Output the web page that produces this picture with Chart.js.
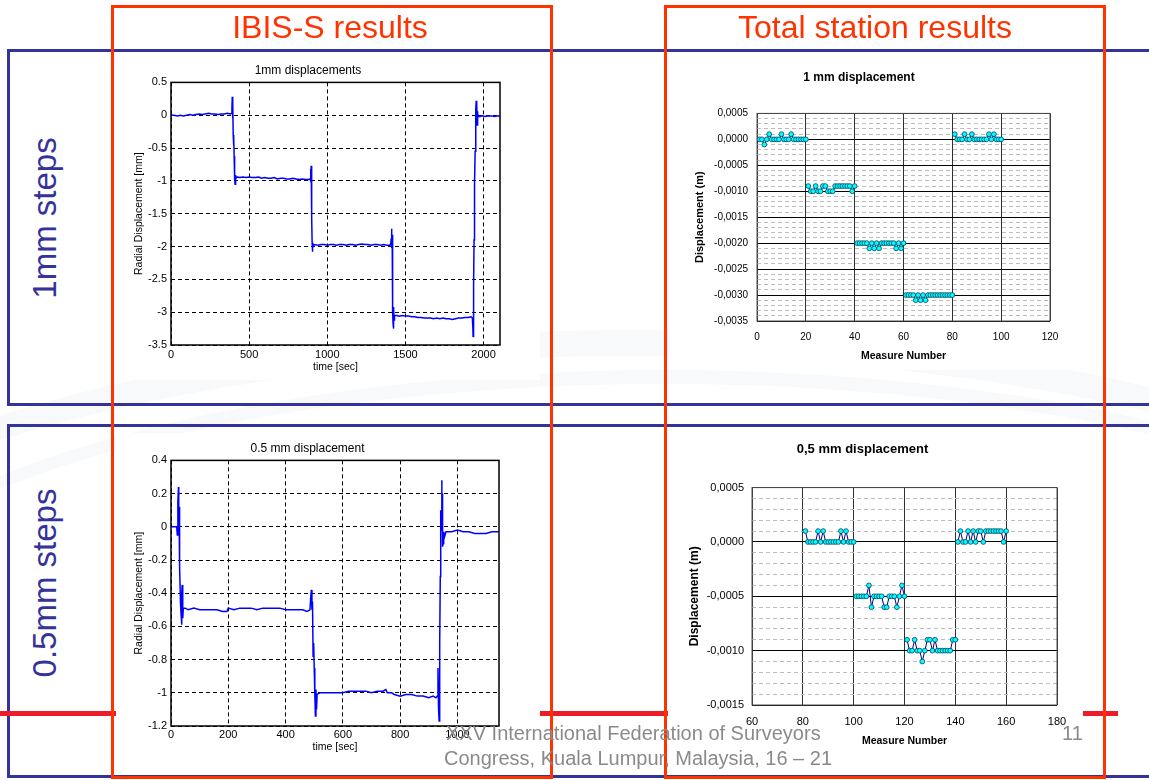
<!DOCTYPE html>
<html lang="en">
<head>
<meta charset="UTF-8">
<title>IBIS-S and total station results</title>
<script src="https://cdn.jsdelivr.net/npm/chart.js"></script>
<style>
  body { margin: 0; width: 1149px; height: 780px; position: relative; overflow: hidden; background: #fff;
         font-family: Arial, "Liberation Sans", sans-serif; }
  .abs { position: absolute; }
  canvas { position: absolute; background: #fff; }
  .bluebox { position: absolute; left: 7px; width: 1200px; border: 3px solid #333399; }
  .redbox { position: absolute; top: 5px; width: 436px; height: 768px; border: 3px solid #ff3300; }
  .head { position: absolute; top: 11px; width: 440px; text-align: center; font-size: 32px; line-height: 32px; color: #ff3300; }
  .side { position: absolute; width: 300px; height: 40px; line-height: 40px; text-align: center; font-size: 33px;
          color: #333399; transform: rotate(-90deg); }
  .foot { position: absolute; font-size: 20px; line-height: 25px; color: #8a8a8a; }
  .swoosh { position: absolute; border-radius: 50%; border: 26px solid rgba(185, 198, 220, 0.10); }
</style>
</head>
<body>
<div class="swoosh" style="left:-300px; top:330px; width:1800px; height:600px;"></div>
<div class="swoosh" style="left:-200px; top:370px; width:1700px; height:560px; border-width:14px;"></div>

<div class="bluebox" style="top:49px; height:351px;"></div>
<div class="bluebox" style="top:424px; height:348px;"></div>
<div class="abs" style="left:0; top:711px; width:1118px; height:5px; background:#ec1c28;"></div>

<canvas id="ibis1" width="424" height="325" style="left:116px; top:55px;"></canvas>
<canvas id="ts1" width="414" height="310" style="left:668px; top:60px;"></canvas>
<canvas id="ibis05" width="424" height="328" style="left:116px; top:433px;"></canvas>
<canvas id="ts05" width="415" height="325" style="left:668px; top:435px;"></canvas>

<div class="redbox" style="left:111px;"></div>
<div class="redbox" style="left:664px;"></div>
<div class="head" style="left:110px;">IBIS-S results</div>
<div class="head" style="left:655px;">Total station results</div>
<div class="side" style="left:-105px; top:198px;">1mm steps</div>
<div class="side" style="left:-105px; top:563px;">0.5mm steps</div>

<div class="foot" style="left:446px; top:721px;">XXV International Federation of Surveyors</div>
<div class="foot" style="left:444px; top:746px;">Congress, Kuala Lumpur, Malaysia, 16 – 21</div>
<div class="foot" style="left:1062px; top:721px;">11</div>

<script>
// IBIS-S, 1 mm steps (time in s, radial displacement in mm)
const ibis1Time = [0, 20, 40, 60, 80, 100, 120, 140, 160, 180, 200, 220, 240, 260, 280, 300, 320, 340, 360, 380,
  388, 390, 392, 394, 396, 398, 400, 402, 404, 406, 408, 410, 412, 415, 420, 440, 460, 480, 500, 520, 540, 560,
  580, 600, 620, 640, 660, 680, 700, 720, 740, 760, 780, 800, 820, 840, 860, 880, 890, 893, 895, 897, 899, 901,
  903, 905, 907, 910, 915, 940, 960, 980, 1000, 1020, 1040, 1060, 1080, 1100, 1120, 1140, 1160, 1180, 1200, 1220,
  1240, 1260, 1280, 1300, 1320, 1340, 1360, 1380, 1400, 1406, 1409, 1411, 1413, 1415, 1417, 1419, 1421, 1423,
  1425, 1427, 1430, 1445, 1460, 1480, 1500, 1520, 1540, 1560, 1580, 1600, 1620, 1640, 1660, 1680, 1700, 1720,
  1740, 1760, 1780, 1800, 1820, 1840, 1860, 1880, 1900, 1920, 1928, 1931, 1933, 1935, 1937, 1939, 1941, 1943,
  1946, 1949, 1951, 1953, 1955, 1957, 1959, 1961, 1963, 1967, 1975, 1990, 2010, 2030, 2050, 2070, 2090, 2105];
const ibis1Disp = [0.00, 0.00, -0.01, 0.00, -0.01, 0.00, 0.01, 0.00, 0.01, 0.02, 0.01, 0.02, 0.03, 0.02, 0.02, 0.01, 0.02, 0.02, 0.03, 0.02,
  0.03, 0.12, 0.28, -0.05, 0.18, -0.30, -0.45, -0.32, -0.62, -0.90, -0.96, -1.05, -0.91, -0.97, -0.94, -0.95, -0.94, -0.95, -0.94, -0.95, -0.95, -0.94,
  -0.96, -0.95, -0.96, -0.96, -0.95, -0.97, -0.96, -0.96, -0.97, -0.97, -0.96, -0.97, -0.98, -0.97, -0.98, -0.98, -0.97, -0.82, -1.00, -0.77, -1.12, -1.55,
  -1.95, -2.08, -1.94, -2.00, -1.97, -1.98, -1.97, -1.97, -1.98, -1.97, -1.97, -1.98, -1.97, -1.97, -1.98, -1.97, -1.97, -1.98, -1.97, -1.96,
  -1.97, -1.97, -1.98, -1.97, -1.97, -1.98, -1.97, -1.98, -1.98, -1.96, -1.88, -1.73, -2.02, -1.82, -2.45, -3.00, -3.18, -3.25,
  -2.92, -3.12, -3.05, -3.05, -3.06, -3.05, -3.06, -3.06, -3.07, -3.07, -3.08, -3.08, -3.09, -3.09, -3.09, -3.10, -3.09, -3.10,
  -3.09, -3.10, -3.10, -3.11, -3.10, -3.09, -3.09, -3.08, -3.08, -3.07, -3.09, -3.22, -3.37, -3.05, -2.60, -1.90, -1.20, -1.05,
  -0.55, -0.15, 0.10, 0.22, -0.12, 0.18, -0.15, 0.06, -0.04, 0.00, -0.02, -0.01, -0.02, -0.01, -0.01, -0.02, -0.01, -0.01];
const ibis1XTicks = [0, 500, 1000, 1500, 2000];

// IBIS-S, 0.5 mm steps
const ibis05Time = [0, 10, 20, 22, 24, 26, 27, 28, 29, 31, 33, 35, 37, 38, 39, 41, 43, 50, 60, 80, 100, 120, 140,
  160, 180, 195, 200, 220, 240, 260, 280, 300, 320, 340, 360, 380, 400, 420, 440, 460, 475, 485, 488, 490, 492,
  494, 496, 498, 500, 502, 504, 506, 508, 510, 520, 540, 560, 580, 600, 620, 640, 660, 680, 700, 720, 740, 750,
  755, 770, 780, 800, 820, 840, 860, 880, 900, 915, 925, 930, 932, 934, 936, 938, 940, 941, 942, 944, 945, 946,
  947, 948, 950, 952, 955, 960, 980, 1000, 1020, 1040, 1060, 1080, 1100, 1120, 1140, 1145];
const ibis05Disp = [0.00, 0.00, 0.00, -0.05, 0.15, 0.24, -0.05, 0.12, -0.20, -0.24, -0.45, -0.52, -0.59, -0.40, -0.35, -0.55, -0.49, -0.49, -0.50, -0.49, -0.50, -0.50, -0.50,
  -0.50, -0.51, -0.51, -0.49, -0.50, -0.49, -0.49, -0.49, -0.50, -0.49, -0.49, -0.49, -0.49, -0.50, -0.50, -0.50, -0.50, -0.51, -0.50, -0.42, -0.38, -0.50,
  -0.45, -0.78, -0.70, -0.85, -1.00, -1.14, -0.98, -1.10, -1.01, -1.00, -1.00, -1.00, -1.00, -1.00, -0.99, -0.99, -0.99, -0.99, -1.00, -0.99, -0.99, -0.98,
  -1.00, -1.00, -1.01, -1.02, -1.01, -1.01, -1.02, -1.02, -1.03, -1.02, -1.03, -1.02, -0.85, -1.10, -1.17, -0.70, -0.30, -0.05, 0.10, -0.02, 0.28, 0.00,
  0.20, -0.12, -0.10, -0.03, -0.06, -0.03, -0.03, -0.02, -0.03, -0.03, -0.04, -0.04, -0.04, -0.03, -0.03, -0.03];
const ibis05XTicks = [0, 200, 400, 600, 800, 1000];

// Total station, 1 mm steps: five runs of 20 measures (m)
const ts1Starts = [1, 21, 41, 61, 81];
const ts1Run1 = [0, 0, -0.0001, 0, 0.0001, 0, 0, 0, 0, 0.0001, 0, 0, 0, 0.0001, 0, 0, 0, 0, 0, 0];
const ts1Run2 = [-0.0009, -0.0010, -0.0010, -0.0009, -0.0010, -0.0010, -0.0009, -0.0009, -0.0010, -0.0010,
  -0.0010, -0.0009, -0.0009, -0.0009, -0.0009, -0.0009, -0.0009, -0.0009, -0.0010, -0.0009];
const ts1Run3 = [-0.0020, -0.0020, -0.0020, -0.0020, -0.0020, -0.0021, -0.0020, -0.0021, -0.0020, -0.0021,
  -0.0020, -0.0020, -0.0020, -0.0020, -0.0020, -0.0020, -0.0021, -0.0020, -0.0021, -0.0020];
const ts1Run4 = [-0.0030, -0.0030, -0.0030, -0.0030, -0.0031, -0.0030, -0.0031, -0.0030, -0.0031, -0.0030,
  -0.0030, -0.0030, -0.0030, -0.0030, -0.0030, -0.0030, -0.0030, -0.0030, -0.0030, -0.0030];
const ts1Run5 = [0.0001, 0, 0, 0, 0.0001, 0, 0, 0.0001, 0, 0, 0, 0, 0, 0, 0.0001, 0, 0.0001, 0, 0, 0];

// Total station, 0.5 mm steps: four runs of 20 measures (m)
const ts05Starts = [81, 101, 121, 141];
const ts05Run1 = [0.0001, 0, 0, 0, 0, 0.0001, 0, 0.0001, 0, 0, 0, 0, 0, 0, 0.0001, 0, 0.0001, 0, 0, 0];
const ts05Run2 = [-0.0005, -0.0005, -0.0005, -0.0005, -0.0005, -0.0004, -0.0006, -0.0005, -0.0005, -0.0005,
  -0.0005, -0.0006, -0.0006, -0.0005, -0.0005, -0.0005, -0.0006, -0.0005, -0.0004, -0.0005];
const ts05Run3 = [-0.0009, -0.0010, -0.0010, -0.0009, -0.0010, -0.0010, -0.0011, -0.0010, -0.0009, -0.0009,
  -0.0010, -0.0009, -0.0010, -0.0010, -0.0010, -0.0010, -0.0010, -0.0010, -0.0009, -0.0009];
const ts05Run4 = [0, 0.0001, 0, 0, 0.0001, 0, 0.0001, 0, 0.0001, 0.0001, 0, 0.0001, 0.0001, 0.0001, 0.0001,
  0.0001, 0.0001, 0.0001, 0, 0.0001];

Chart.defaults.font.family = 'Arial, "Liberation Sans", sans-serif';
Chart.defaults.color = '#000';

// box round the plot area (matlab / excel style)
const framePlugin = {
  id: 'frame',
  afterDatasetsDraw(chart, args, opts) {
    const { ctx, chartArea: a } = chart;
    ctx.save();
    ctx.strokeStyle = opts.color;
    ctx.lineWidth = opts.width;
    ctx.strokeRect(a.left, a.top, a.right - a.left, a.bottom - a.top);
    ctx.restore();
  }
};

function ibisChart(id, times, disp, o) {
  return new Chart(document.getElementById(id), {
    type: 'line',
    data: {
      datasets: [{
        data: times.map((t, i) => ({ x: t, y: disp[i] })),
        borderColor: '#0000ff', borderWidth: 1.5, pointRadius: 0, tension: 0
      }]
    },
    options: {
      responsive: false, animation: false,
      layout: { padding: { right: o.padRight } },
      plugins: {
        legend: { display: false }, tooltip: { enabled: false },
        title: { display: true, text: o.title, font: { size: 12, weight: 'normal' }, padding: { top: 8, bottom: 5 } },
        frame: { color: '#000', width: 1.5 }
      },
      scales: {
        x: {
          type: 'linear', min: 0, max: o.xMax,
          afterFit: s => { s.height = o.xAxisH; },
          afterBuildTicks: s => { s.ticks = o.xTicks.map(v => ({ value: v })); },
          ticks: { autoSkip: false, maxRotation: 0, padding: o.xTickPad, font: { size: 11 }, callback: v => String(v) },
          grid: { color: '#000', lineWidth: 1, drawTicks: false },
          border: { display: false, dash: [4, 3] },
          title: { display: true, text: 'time [sec]', font: { size: 10.5 }, padding: { top: 0, bottom: o.xTitlePad } }
        },
        y: {
          min: o.yMin, max: o.yMax,
          afterFit: s => { s.width = 55; },
          ticks: { stepSize: o.yStep, autoSkip: false, padding: 4, font: { size: 11 }, callback: v => String(v) },
          grid: { color: '#000', lineWidth: 1, drawTicks: false },
          border: { display: false, dash: [4, 3] },
          title: { display: true, text: 'Radial Displacement [mm]', font: { size: 10.5 }, padding: { top: 17, bottom: 0 } }
        }
      }
    },
    plugins: [framePlugin]
  });
}

const isMajor = v => Math.round(v * 10000) % 5 === 0;

function tsChart(id, starts, runs, o) {
  return new Chart(document.getElementById(id), {
    type: 'scatter',
    data: {
      datasets: runs.map((vals, k) => ({
        data: vals.map((v, i) => ({ x: starts[k] + i, y: v })),
        showLine: true, borderColor: '#000080', borderWidth: 1,
        pointBackgroundColor: '#00ffff', pointBorderColor: '#004466', pointBorderWidth: 0.8, pointRadius: 2.4
      }))
    },
    options: {
      responsive: false, animation: false,
      layout: { padding: { right: o.padRight } },
      plugins: {
        legend: { display: false }, tooltip: { enabled: false },
        title: { display: true, text: o.title, font: { size: o.titleSize, weight: 'bold' }, padding: o.titlePad },
        frame: { color: '#505050', width: 1 }
      },
      scales: {
        x: {
          min: o.xMin, max: o.xMax,
          afterFit: s => { s.height = o.xAxisH; },
          ticks: { stepSize: 20, autoSkip: false, maxRotation: 0, padding: o.xTickPad, font: { size: o.tickSize } },
          grid: { color: '#303030', lineWidth: 1, drawTicks: false },
          border: { display: false },
          title: { display: true, text: 'Measure Number', font: { size: 10.5, weight: 'bold' }, padding: { top: 0, bottom: o.xTitlePad } }
        },
        y: {
          min: o.yMin, max: 0.0005,
          afterFit: s => { s.width = o.yAxisW; },
          ticks: { stepSize: 0.0001, autoSkip: false, padding: o.yTickPad, font: { size: o.tickSize },
                   callback: v => isMajor(v) ? v.toFixed(4).replace('.', ',') : '' },
          grid: { color: c => (c.tick && isMajor(c.tick.value)) ? '#000' : '#bdbdbd', lineWidth: 1, drawTicks: false },
          border: { display: false, dash: c => (c.tick && !isMajor(c.tick.value)) ? [4, 3] : [] },
          title: { display: true, text: 'Displacement (m)', font: { size: o.yTitleSize, weight: 'bold' }, padding: { top: o.yTitlePad, bottom: 0 } }
        }
      }
    },
    plugins: [framePlugin]
  });
}

ibisChart('ibis1', ibis1Time, ibis1Disp, {
  title: '1mm displacements', xMax: 2105, xTicks: ibis1XTicks, yMin: -3.5, yMax: 0.5, yStep: 0.5,
  padRight: 40, xAxisH: 35, xTickPad: 3, xTitlePad: 7
});
ibisChart('ibis05', ibis05Time, ibis05Disp, {
  title: '0.5 mm displacement', xMax: 1145, xTicks: ibis05XTicks, yMin: -1.2, yMax: 0.4, yStep: 0.2,
  padRight: 41, xAxisH: 35, xTickPad: 2, xTitlePad: 8
});
tsChart('ts1', ts1Starts, [ts1Run1, ts1Run2, ts1Run3, ts1Run4, ts1Run5], {
  title: '1 mm displacement', titleSize: 12, titlePad: { top: 10, bottom: 29 },
  xMin: 0, xMax: 120, yMin: -0.0035, padRight: 32, xAxisH: 49, xTickPad: 10, xTitlePad: 8,
  yAxisW: 89, yTickPad: 9, tickSize: 10, yTitleSize: 11, yTitlePad: 25
});
tsChart('ts05', ts05Starts, [ts05Run1, ts05Run2, ts05Run3, ts05Run4], {
  title: '0,5 mm displacement', titleSize: 13, titlePad: { top: 7, bottom: 30 },
  xMin: 60, xMax: 180, yMin: -0.0015, padRight: 26, xAxisH: 55, xTickPad: 10, xTitlePad: 13,
  yAxisW: 84, yTickPad: 8, tickSize: 11, yTitleSize: 12, yTitlePad: 19
});
</script>
</body>
</html>
